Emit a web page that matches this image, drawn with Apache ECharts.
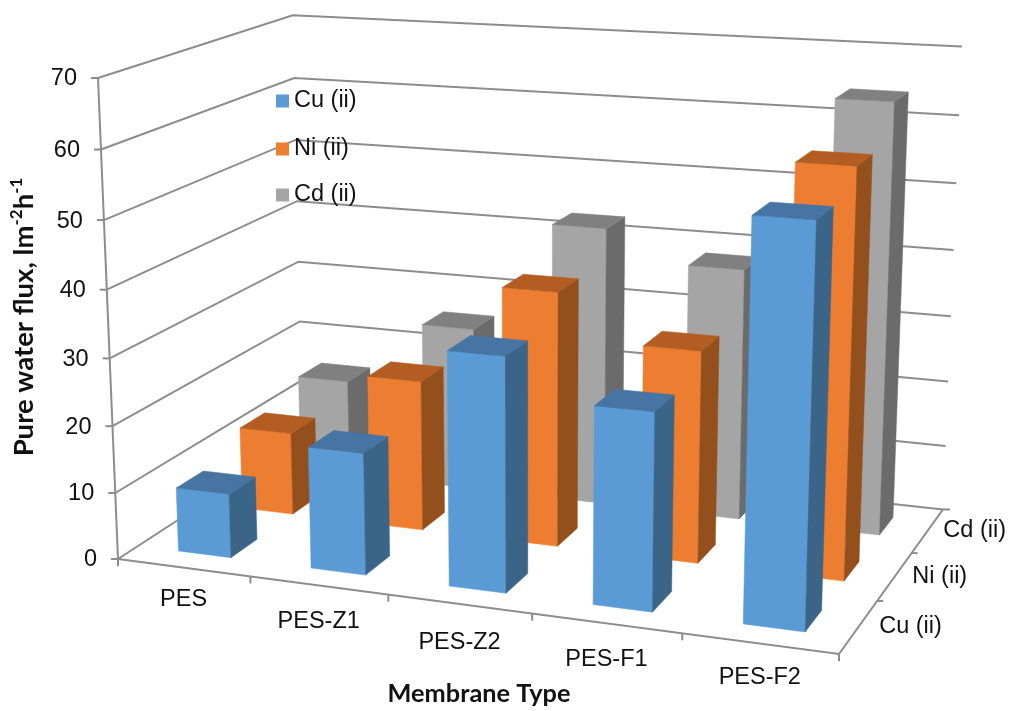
<!DOCTYPE html>
<html>
<head>
<meta charset="utf-8">
<style>html,body{margin:0;background:#fff}#chart{width:1012px;height:711px}</style>
<script src="https://cdn.jsdelivr.net/npm/echarts@6/dist/echarts.min.js"></script>
</head>
<body>
<div id="chart"></div>
<script>
const categories = ['PES', 'PES-Z1', 'PES-Z2', 'PES-F1', 'PES-F2']
const metals = ['Cu (ii)', 'Ni (ii)', 'Cd (ii)']
const cuFlux = [9.6, 18, 34, 28.3, 55.9]
const niFlux = [12.7, 22.8, 38, 31.3, 58.9]
const cdFlux = [15.2, 25.5, 42.8, 38.2, 64.1]
const yTicks = [0, 10, 20, 30, 40, 50, 60, 70]

const LABEL_FONT = '23.5px "Liberation Sans", Arial, sans-serif'
const LINE = '#8c8c8c'
const BLUE = ['#5b9bd5', '#3b6489', '#4675a3']
const ORANGE = ['#ed7d31', '#94501c', '#b35d22']
const GRAY = ['#a5a5a5', '#6b6b6b', '#808080']

// perspective box: u along categories, v into the page, h up the value axis
const O = [118, 559], B = [839, 654], G = [302.5, 439], C = [98, 78]
const ALPHA = -0.1, BETA = 0.142, GAMMA = -0.046

function project(u, v, h) {
  const w = 1 + ALPHA * u + BETA * v + GAMMA * h
  const axis = k =>
    O[k] + u * (B[k] * (1 + ALPHA) - O[k]) + v * (G[k] * (1 + BETA) - O[k]) + h * (C[k] * (1 + GAMMA) - O[k])
  return [axis(0) / w, axis(1) / w]
}

// grid position -> fraction of the box
function toBox(params, pt) {
  const cs = params.coordSys
  return [(pt[0] - cs.x) / cs.width, (cs.y + cs.height - pt[1]) / cs.height]
}

function line(points, width) {
  return {
    type: 'polyline',
    shape: { points },
    style: { stroke: LINE, lineWidth: width || 2, fill: null }
  }
}

function label(text, x, y, align) {
  return {
    type: 'text',
    style: { text, x, y, fill: '#111', font: LABEL_FONT, align: align || 'center', verticalAlign: 'middle' }
  }
}

function gridlineItem(params, api) {
  const h = toBox(params, api.coord([0, api.value(1)]))[1]
  const front = project(0, 0, h)
  return {
    type: 'group',
    children: [
      line([front, project(0, 1, h), project(1, 1, h)]),
      line([front, [front[0] - 7, front[1]]]),
      label(String(api.value(1)), front[0] - 21, front[1] + 1, 'right')
    ]
  }
}

const catLabelDy = [32, 36, 39, 36, 34]
const depthLabelDx = [52, 45, 47]

function categoryItem(params, api) {
  const i = api.value(0)
  const band = api.size([1, 0])[0] / params.coordSys.width
  const u = toBox(params, api.coord([i, 0]))[0]
  const p = project(u, 0, 0)
  const tick = project(u + band / 2, 0, 0)
  return {
    type: 'group',
    children: [
      line([tick, [tick[0], tick[1] + 7]]),
      label(categories[i], p[0], p[1] + catLabelDy[i])
    ]
  }
}

function frameItem() {
  const first = project(0, 0, 0)
  const children = [
    line([project(0, 0, 1), first, [first[0], first[1] + 7]]),
    line([first, project(1, 0, 0), project(1, 1, 0), [project(1, 1, 0)[0] + 7, project(1, 1, 0)[1]]])
  ]
  metals.forEach((m, j) => {
    const t = project(1, j / 3, 0)
    if (j > 0) children.push(line([t, [t[0] + 6, t[1]]]))
    const p = project(1, (j + 0.5) / 3, 0)
    children.push(label(m, p[0] + depthLabelDx[j], p[1]))
  })
  return { type: 'group', children }
}

const BAR_W = 0.4
const BAR_D = 0.41
const BAR_SHIFT = 0.002

function barRenderer(depthIndex, colors) {
  return function (params, api) {
    const cs = params.coordSys
    const band = api.size([1, 0])[0] / cs.width
    const top = toBox(params, api.coord([api.value(0), api.value(1)]))
    const u0 = top[0] - band * BAR_W / 2 + BAR_SHIFT
    const u1 = top[0] + band * BAR_W / 2 + BAR_SHIFT
    const v0 = (depthIndex + (1 - BAR_D) / 2) / 3
    const v1 = (depthIndex + (1 + BAR_D) / 2) / 3
    const h = top[1]
    const face = (pts, fill) => ({
      type: 'polygon',
      shape: { points: pts },
      style: { fill, stroke: fill, lineWidth: 0.5 }
    })
    return {
      type: 'group',
      children: [
        face([project(u0, v0, 0), project(u1, v0, 0), project(u1, v0, h), project(u0, v0, h)], colors[0]),
        face([project(u1, v0, 0), project(u1, v1, 0), project(u1, v1, h), project(u1, v0, h)], colors[1]),
        face([project(u0, v0, h), project(u1, v0, h), project(u1, v1, h), project(u0, v1, h)], colors[2])
      ]
    }
  }
}

function barSeries(name, values, depthIndex, colors) {
  return {
    name,
    type: 'custom',
    renderItem: barRenderer(depthIndex, colors),
    itemStyle: { color: colors[0] },
    encode: { x: 0, y: 1 },
    data: values.map((v, i) => [i, v]),
    silent: true
  }
}

function legendAt(name, top) {
  return {
    data: [name],
    left: 276,
    top,
    itemWidth: 13,
    itemHeight: 13,
    itemGap: 0,
    padding: 0,
    icon: 'rect',
    selectedMode: false,
    textStyle: { fontFamily: 'Liberation Sans', fontSize: 23.5, color: '#111', padding: [0, 0, 0, 0] }
  }
}

const chart = echarts.init(document.getElementById('chart'), null, { renderer: 'canvas' })
chart.setOption({
  animation: false,
  backgroundColor: '#fff',
  grid: { left: 118, width: 720, top: 78, height: 481 },
  legend: [legendAt(metals[0], 89), legendAt(metals[1], 137), legendAt(metals[2], 183)],
  xAxis: {
    type: 'category',
    data: categories,
    axisLine: { show: false },
    axisTick: { show: false },
    axisLabel: { show: false },
    splitLine: { show: false },
    name: 'Membrane Type',
    nameLocation: 'middle',
    nameGap: 135,
    nameTextStyle: { fontFamily: 'Lato', fontWeight: 'bold', fontSize: 25.3, color: '#111', padding: [0, 11, 0, 0] }
  },
  yAxis: {
    type: 'value',
    min: 0,
    max: 70,
    interval: 10,
    axisLine: { show: false },
    axisTick: { show: false },
    axisLabel: { show: false },
    splitLine: { show: false },
    name: '{a|Pure water flux, lm}{s|-2}{a|h}{s|-1}',
    nameLocation: 'middle',
    nameRotate: 90,
    nameGap: 91,
    nameTextStyle: {
      padding: [0, 10, 0, 0],
      rich: {
        a: { fontFamily: 'Lato', fontWeight: 'bold', fontSize: 27.5, color: '#111', lineHeight: 32 },
        s: { fontFamily: 'Lato', fontWeight: 'bold', fontSize: 17, color: '#111', lineHeight: 32, verticalAlign: 'top' }
      }
    }
  },
  series: [
    { type: 'custom', renderItem: gridlineItem, data: yTicks.map(t => [0, t]), silent: true },
    { type: 'custom', renderItem: categoryItem, data: categories.map((c, i) => [i, 0]), silent: true },
    { type: 'custom', renderItem: frameItem, data: [[0, 0]], silent: true },
    barSeries(metals[2], cdFlux, 2, GRAY),
    barSeries(metals[1], niFlux, 1, ORANGE),
    barSeries(metals[0], cuFlux, 0, BLUE)
  ]
})
</script>
</body>
</html>
